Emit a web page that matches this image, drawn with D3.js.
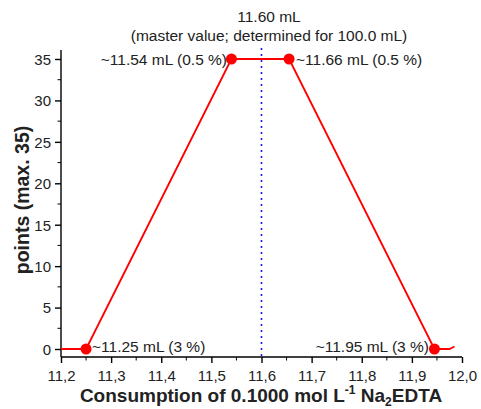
<!DOCTYPE html>
<html><head><meta charset="utf-8">
<script src="https://cdn.jsdelivr.net/npm/d3@7"></script>
<style>body{margin:0;background:#fff}svg{display:block}text{font-family:"Liberation Sans",Arial,sans-serif}</style>
</head><body>
<svg id="c" width="481" height="409"></svg>
<script>
const lineX = [11.2, 11.25, 11.54, 11.655, 11.945, 11.975, 11.985];
const lineY = [0, 0, 35, 35, 0, 0, 0.3];
const markX = [11.25, 11.54, 11.655, 11.945];
const markY = [0, 35, 35, 0];
const xTicks = [11.2, 11.3, 11.4, 11.5, 11.6, 11.7, 11.8, 11.9, 12.0];
const yTicks = [0, 5, 10, 15, 20, 25, 30, 35];
const masterValue = 11.6;

const svg = d3.select("#c");
const x = d3.scaleLinear().domain([11.2, 12.0]).range([61, 462]);
const y = d3.scaleLinear().domain([0, 35]).range([349, 59]);
const yBottom = 357, yTop = 50;

// axes
const xAxis = d3.axisBottom(x).tickValues(xTicks).tickSize(6).tickSizeOuter(0)
  .tickFormat(d => d.toFixed(1).replace(".", ","));
const gx = svg.append("g").attr("transform", `translate(0,${yBottom})`).call(xAxis);
gx.select(".domain").attr("d", `M${x(11.2)},0H${x(12.0)}`);
const xMinor = d3.range(11.25, 12.0, 0.1);
gx.selectAll(".mx").data(xMinor).enter().append("line")
  .attr("x1", d => x(d)).attr("x2", d => x(d)).attr("y1", 0).attr("y2", 3.5).attr("stroke", "#000");

const yAxis = d3.axisLeft(y).tickValues(yTicks).tickSize(6).tickSizeOuter(0);
const gy = svg.append("g").attr("transform", `translate(61,0)`).call(yAxis);
gy.select(".domain").attr("d", `M0,${yBottom}V${yTop}`);
const yMinor = d3.range(2.5, 35, 5);
gy.selectAll(".my").data(yMinor).enter().append("line")
  .attr("x1", 0).attr("x2", -3.5).attr("y1", d => y(d)).attr("y2", d => y(d)).attr("stroke", "#000");

svg.selectAll(".tick text").attr("font-size", 15).attr("fill", "#222")
  .attr("font-family", '"Liberation Sans",Arial,sans-serif');
gx.selectAll(".tick text").attr("dy", null).attr("y", 24);
gy.selectAll(".tick text").attr("x", -10).attr("dy", "0.36em");
svg.selectAll(".domain, .tick line").attr("stroke", "#000").attr("stroke-width", 1.4);

// master value line
svg.append("line").attr("x1", x(masterValue)).attr("x2", x(masterValue))
  .attr("y1", 48).attr("y2", yBottom)
  .attr("stroke", "#1a1aff").attr("stroke-width", 1.6).attr("stroke-dasharray", "2,4");

// data line
const pts = lineX.map((d, i) => [d, lineY[i]]);
svg.append("path").datum(pts)
  .attr("d", d3.line().x(d => x(d[0])).y(d => y(d[1])))
  .attr("fill", "none").attr("stroke", "#ff0000").attr("stroke-width", 1.8);
svg.selectAll(".mk").data(markX).enter().append("circle")
  .attr("cx", d => x(d)).attr("cy", (d, i) => y(markY[i])).attr("r", 5.5).attr("fill", "#ff0000");

// annotations
const ann = (t, xx, yy, anchor) => svg.append("text").attr("x", xx).attr("y", yy)
  .attr("text-anchor", anchor).attr("font-size", 15.5).attr("fill", "#222").text(t);
ann("11.60 mL", 269, 22, "middle");
ann("(master value; determined for 100.0 mL)", 269, 41, "middle");
ann("~11.54 mL (0.5 %)", 227, 65, "end");
ann("~11.66 mL (0.5 %)", 296, 65, "start");
ann("~11.25 mL (3 %)", 92, 352, "start");
ann("~11.95 mL (3 %)", 429, 352, "end");

// axis titles
svg.append("text").attr("transform", "translate(29,200) rotate(-90)")
  .attr("text-anchor", "middle").attr("font-size", 19.5).attr("font-weight", "bold").attr("fill", "#222")
  .text("points (max. 35)");
const xt = svg.append("text").attr("x", 261).attr("y", 402).attr("text-anchor", "middle")
  .attr("font-size", 19).attr("font-weight", "bold").attr("fill", "#222");
xt.append("tspan").text("Consumption of 0.1000 mol L");
xt.append("tspan").attr("dy", -8).attr("font-size", 12).text("-1");
xt.append("tspan").attr("dy", 8).text(" Na");
xt.append("tspan").attr("dy", 4).attr("font-size", 12).text("2");
xt.append("tspan").attr("dy", -4).text("EDTA");
</script>
</body></html>
